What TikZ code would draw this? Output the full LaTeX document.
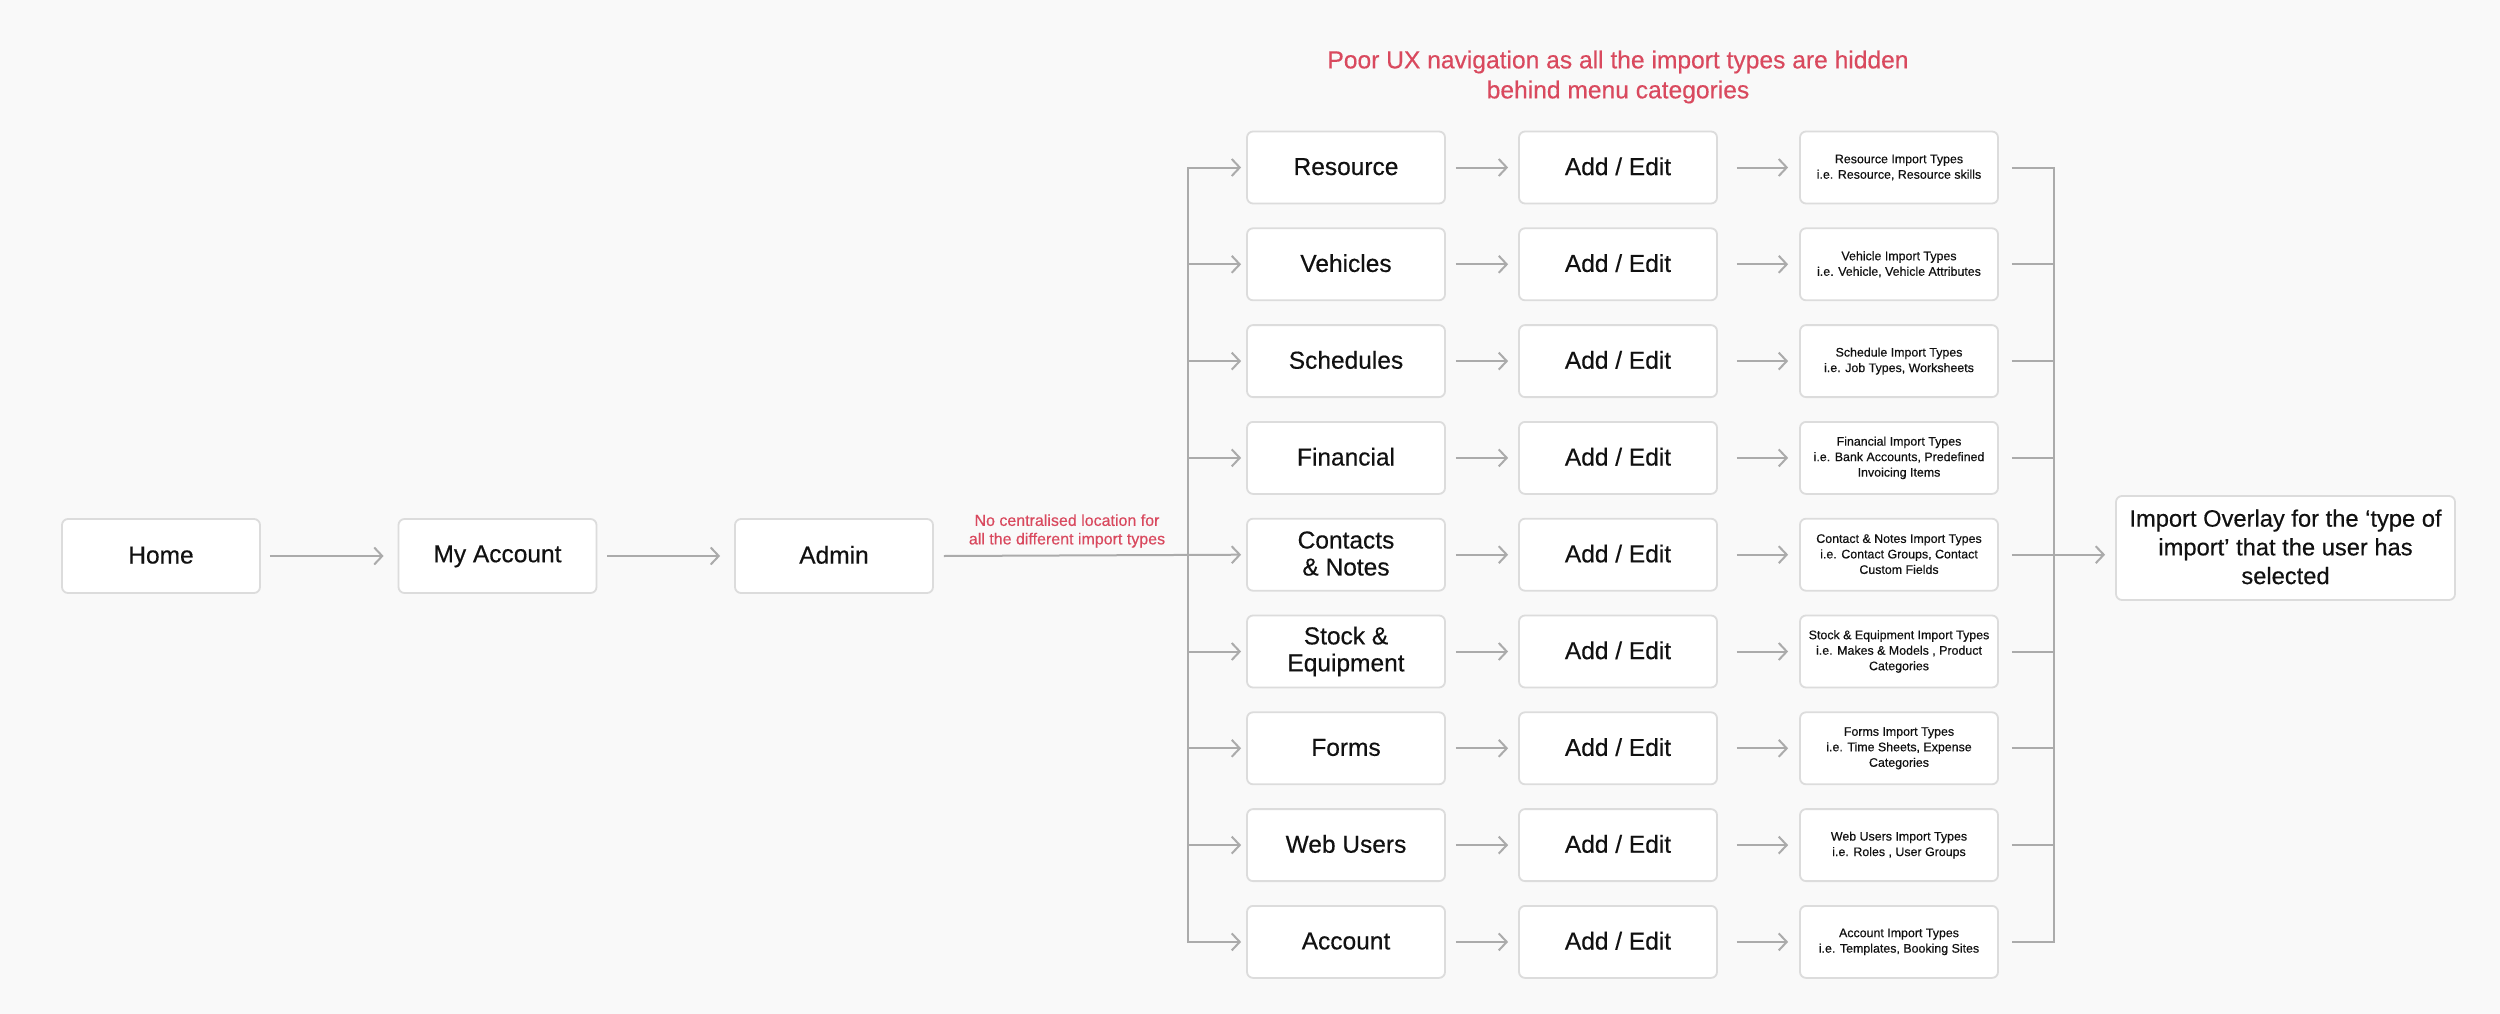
\documentclass[tikz,border=0pt]{standalone}
\usepackage{fontspec}
\setmainfont{Liberation Sans}[UprightFeatures={FakeBold=0.4}]
\usetikzlibrary{arrows.meta}
\definecolor{bg}{HTML}{F9F9F9}
\definecolor{bord}{HTML}{DCDCDC}
\definecolor{arrc}{HTML}{ABABAB}
\definecolor{warn}{HTML}{D9495E}
\definecolor{ink}{HTML}{111111}
\newcommand\capstrut{\rule[-0.104em]{0pt}{0.82em}}
\begin{document}
\begin{tikzpicture}[x=1pt,y=-1pt,
  box/.style={draw=bord, line width=1.8pt, fill=white, rounded corners=6pt,
    minimum width=198pt, minimum height=72pt, inner sep=0pt, align=center,
    text=ink, font=\fontsize{24.5}{27}\selectfont,
    execute at begin node=\capstrut, execute at end node=\capstrut},
  smallbox/.style={box, font=\fontsize{12.4}{15.5}\selectfont},
  arr/.style={draw=arrc, line width=2pt, -{Straight Barb[length=8pt,width=17pt]}},
  ln/.style={draw=arrc, line width=2pt},
  warnnote/.style={text=warn, align=center, inner sep=0pt}]
\useasboundingbox (0,0) rectangle (2500,1014);
\fill[bg] (0,0) rectangle (2500,1014);

% title
\node[warnnote, font=\fontsize{24.6}{30}\selectfont] (title) at (1618,77)
  {Poor UX navigation as all the import types are hidden\\behind menu categories};

% left chain
\node[box, minimum height=74pt] (home) at (161,556) {Home};
\node[box, minimum height=74pt] (myacc) at (497.5,556) {My Account};
\node[box, minimum height=74pt] (admin) at (834,556) {Admin};

% columns
\foreach \i/\a/\c in {
  1/{Resource}/{Resource Import Types\\i.e. Resource, Resource skills},
  2/{Vehicles}/{Vehicle Import Types\\i.e. Vehicle, Vehicle Attributes},
  3/{Schedules}/{Schedule Import Types\\i.e. Job Types, Worksheets},
  4/{Financial}/{Financial Import Types\\i.e. Bank Accounts, Predefined\\Invoicing Items},
  5/{Contacts\\\& Notes}/{Contact \& Notes Import Types\\i.e. Contact Groups, Contact\\Custom Fields},
  6/{Stock \&\\Equipment}/{Stock \& Equipment Import Types\\i.e. Makes \& Models , Product\\Categories},
  7/{Forms}/{Forms Import Types\\i.e. Time Sheets, Expense\\Categories},
  8/{Web Users}/{Web Users Import Types\\i.e. Roles , User Groups},
  9/{Account}/{Account Import Types\\i.e. Templates, Booking Sites}}{
  \pgfmathsetmacro\yy{167.5+(\i-1)*96.8}
  \node[box] (a\i) at (1346,\yy) {\a};
  \node[box] (b\i) at (1618,\yy) {Add / Edit};
  \node[smallbox] (c\i) at (1899,\yy) {\c};
}

% overlay
\node[box, minimum width=339pt, minimum height=104pt, font=\fontsize{23.7}{28.7}\selectfont]
  (ov) at (2285.5,548) {Import Overlay for the ‘type of\\import’ that the user has\\selected};

% arrows left chain
\draw[arr] ([xshift=9pt]home.east) -- ([xshift=-14pt]myacc.west);
\draw[arr] ([xshift=10pt]myacc.east) -- ([xshift=-14pt]admin.west);
\draw[arr] ([xshift=10pt]admin.east) -- ([xshift=-5pt]a5.west);

\node[warnnote, font=\fontsize{16}{18.5}\selectfont] (note) at (1067,531)
  {No centralised location for\\all the different import types};

% left bus
\coordinate (lt) at ([xshift=-58pt]a1.west);
\coordinate (lb) at ([xshift=-58pt]a9.west);
\draw[arr] (lb) -- (lt) -- ([xshift=-5pt]a1.west);
\draw[arr] (lt) -- (lb) -- ([xshift=-5pt]a9.west);
\foreach \i in {2,3,4,6,7,8}{
  \draw[arr] (a\i.west -| lt) -- ([xshift=-5pt]a\i.west);
}

% middle arrows
\foreach \i in {1,...,9}{
  \draw[arr] ([xshift=10pt]a\i.east) -- ([xshift=-10pt]b\i.west);
  \draw[arr] ([xshift=19pt]b\i.east) -- ([xshift=-11pt]c\i.west);
}

% right bus
\coordinate (rt) at ([xshift=55pt]c1.east);
\coordinate (rb) at ([xshift=55pt]c9.east);
\draw[ln] ([xshift=13pt]c1.east) -- (rt) -- (rb) -- ([xshift=13pt]c9.east);
\foreach \i in {2,3,4,6,7,8}{
  \draw[ln] ([xshift=13pt]c\i.east) -- (c\i.east -| rt);
}
\draw[arr] ([xshift=13pt]c5.east) -- ([xshift=-10pt]c5.east -| ov.west);
\end{tikzpicture}
\end{document}
